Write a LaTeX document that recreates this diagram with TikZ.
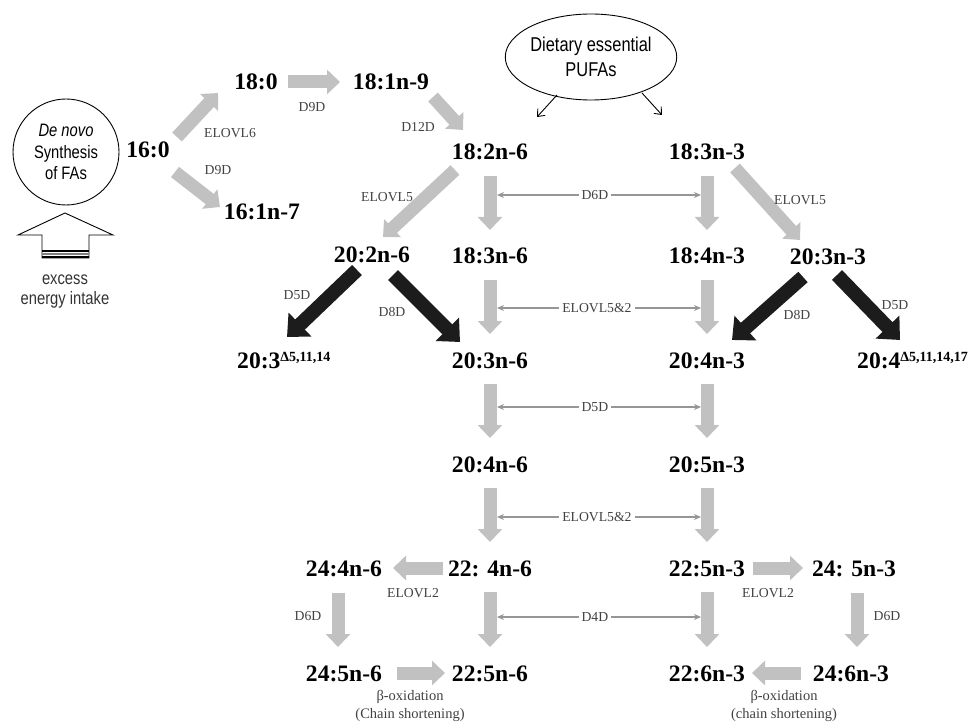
\documentclass[tikz,border=0pt]{standalone}
\usepackage{fontspec}
\setmainfont{Liberation Serif}
\newfontfamily\narrowsans[FakeStretch=0.82]{Liberation Sans}
\usetikzlibrary{arrows.meta,calc,shapes.geometric}

\definecolor{fatgray}{RGB}{193,193,193}
\definecolor{thingray}{RGB}{150,150,150}
\definecolor{enzgray}{RGB}{65,65,65}
\definecolor{darkarrow}{RGB}{28,28,28}

\begin{document}
\begin{tikzpicture}[x=1pt,y=-1pt,
  fa/.style={inner sep=0pt, text height=16pt, text depth=0pt,
             font=\fontsize{23.6}{28}\selectfont\bfseries},
  enz/.style={inner sep=1pt, text=enzgray, font=\fontsize{13.7}{16}\selectfont},
  note/.style={inner sep=0pt, text=enzgray, align=center,
               font=\fontsize{14.5}{18}\selectfont},
  fat/.style={draw=fatgray, line width=13pt, -{Triangle[length=13pt,width=24pt]}},
  dark/.style={draw=darkarrow, line width=14pt, -{Triangle[length=18pt,width=32pt]}},
  thinlink/.style={draw=thingray, line width=1.2pt,
             {Stealth[length=7pt,width=6pt]}-{Stealth[length=7pt,width=6pt]}},
  feed/.style={draw=black, line width=0.9pt, -{Straight Barb[length=6pt,width=10pt]}},
  sans/.style={inner sep=0pt, align=center}
]
\useasboundingbox (0,0) rectangle (975,722);

% ---- sources ----
\node[draw, line width=0.9pt, circle, minimum size=106pt, inner sep=0pt,
      font=\narrowsans\fontsize{18}{21.5}\selectfont, align=center] (denovo) at (66,152)
      {\textit{De novo}\\Synthesis\\of FAs};
\node[draw, line width=0.9pt, ellipse, minimum width=137pt, minimum height=86pt,
      inner sep=0pt, font=\narrowsans\fontsize{20}{25}\selectfont, align=center] (diet) at (591,57)
      {Dietary essential\\PUFAs};

% hollow "energy" arrow feeding the synthesis circle
\draw[line width=0.9pt, fill=white] (65,213) -- (113,235) -- (89,235) -- (89,258)
      -- (42,258) -- (42,235) -- (18,235) -- cycle;
\draw[line width=2pt] (42,251) -- (89,251);
\draw[line width=2.2pt, gray] (42,254) -- (89,254);
\draw[line width=2pt] (42,257) -- (89,257);
\node[sans, font=\narrowsans\fontsize{18}{20}\selectfont, text=black!80] (excess) at (65,292)
      {excess\\energy intake};

% ---- fatty acids ----
\node[fa] (c160)   at (148,150) {16:0};
\node[fa] (c180)   at (256,82)  {18:0};
\node[fa] (c181)   at (391,82)  {18:1n-9};
\node[fa] (c161)   at (262,212) {16:1n-7};

\node[fa] (c182)   at (490,152) {18:2n-6};
\node[fa] (c183n6) at (490,256) {18:3n-6};
\node[fa] (c203n6) at (490,360) {20:3n-6};
\node[fa] (c204n6) at (490,464) {20:4n-6};
\node[fa] (c224n6) at (490,568) {22: 4n-6};
\node[fa] (c225n6) at (490,673) {22:5n-6};

\node[fa] (c183n3) at (707,152) {18:3n-3};
\node[fa] (c184n3) at (707,256) {18:4n-3};
\node[fa] (c204n3) at (707,360) {20:4n-3};
\node[fa] (c205n3) at (707,464) {20:5n-3};
\node[fa] (c225n3) at (707,568) {22:5n-3};
\node[fa] (c226n3) at (707,673) {22:6n-3};

\node[fa] (c202n6) at (372,255) {20:2n-6};
\node[fa] (c203n3) at (828,257) {20:3n-3};
\node[fa, anchor=west] (c203d) at (237,360)
      {20:3\raisebox{7pt}{\fontsize{14}{14}\selectfont Δ5,11,14}};
\node[fa, anchor=west] (c204d) at (857,360)
      {20:4\raisebox{7pt}{\fontsize{14}{14}\selectfont Δ5,11,14,17}};

\node[fa] (c244n6) at (344,568) {24:4n-6};
\node[fa] (c245n6) at (344,673) {24:5n-6};
\node[fa] (c245n3) at (854,568) {24: 5n-3};
\node[fa] (c246n3) at (851,673) {24:6n-3};

% ---- dietary input ----
\draw[feed] ($(diet)+(-34,38)$) -- ($(diet)+(-54,60)$);
\draw[feed] ($(diet)+(51,36)$) -- ($(diet)+(71,58)$);

% ---- de novo branch ----
\draw[fat] ($(c160)+(29,-13)$) -- ($(c180)+(-38,11)$);
\draw[fat] ($(c160)+(27,22)$) -- ($(c161)+(-42,-5)$);
\draw[fat] ($(c180)+(32,0)$) -- ($(c181)+(-51,0)$);
\draw[fat] ($(c181)+(42,15)$) -- ($(c182)+(-27,-22)$);
\node[enz] (eElovl6) at (230,133) {ELOVL6};
\node[enz] (eD9Da)   at (218,170) {D9D};
\node[enz] (eD9Db)   at (312,107) {D9D};
\node[enz] (eD12D)   at (418,127) {D12D};

% ---- elongation to 20-carbon intermediates ----
\draw[fat] ($(c182)+(-35,18)$) -- ($(c202n6)+(11,-18)$);
\draw[fat] ($(c183n3)+(28,16)$) -- ($(c203n3)+(-28,-17)$);
\node[enz] (eElovl5a) at (387,197) {ELOVL5};
\node[enz] (eElovl5b) at (800,200) {ELOVL5};

% ---- alternative desaturation ----
\draw[dark] ($(c202n6)+(-15,15)$) -- ($(c203d.west)+(50,-23)$);
\draw[dark] ($(c202n6)+(21,20)$) -- ($(c203n6)+(-30,-18)$);
\draw[dark] ($(c203n3)+(-25,20)$) -- ($(c204n3)+(25,-20)$);
\draw[dark] ($(c203n3)+(9,18)$) -- ($(c204d.west)+(43,-20)$);
\node[enz] (eD5Da) at (297,295) {D5D};
\node[enz] (eD8Da) at (392,312) {D8D};
\node[enz] (eD8Db) at (797,315) {D8D};
\node[enz] (eD5Db) at (895,305) {D5D};

% ---- main n-6 and n-3 cascades ----
\foreach \a/\b in {c182/c183n6, c183n6/c203n6, c203n6/c204n6, c204n6/c224n6, c224n6/c225n6,
                   c183n3/c184n3, c184n3/c204n3, c204n3/c205n3, c205n3/c225n3, c225n3/c226n3}
  \draw[fat] ($(\a)+(0,24)$) -- ($(\b)+(0,-26)$);

% shared enzymes of both cascades
\draw[thinlink] ($(c182)+(7,43)$)   -- node[enz, fill=white, inner sep=3pt, pos=0.48] (sD6D) {D6D} ($(c183n3)+(-6,43)$);
\draw[thinlink] ($(c183n6)+(7,52)$) -- node[enz, fill=white, inner sep=3pt, pos=0.49] (sEl52a) {ELOVL5\&2} ($(c184n3)+(-6,52)$);
\draw[thinlink] ($(c203n6)+(7,47)$) -- node[enz, fill=white, inner sep=3pt, pos=0.48] (sD5D) {D5D} ($(c204n3)+(-6,47)$);
\draw[thinlink] ($(c204n6)+(7,53)$) -- node[enz, fill=white, inner sep=3pt, pos=0.49] (sEl52b) {ELOVL5\&2} ($(c205n3)+(-6,53)$);
\draw[thinlink] ($(c224n6)+(7,49)$) -- node[enz, fill=white, inner sep=3pt, pos=0.48] (sD4D) {D4D} ($(c225n3)+(-6,49)$);

% ---- Sprecher pathway, n-6 ----
\draw[fat] ($(c224n6)+(-47,0)$) -- ($(c244n6)+(49,0)$);
\draw[fat] ($(c244n6)+(-6,25)$) -- ($(c245n6)+(-6,-26)$);
\draw[fat] ($(c245n6)+(53,0)$) -- ($(c225n6)+(-45,0)$);
\node[enz] (eElovl2a) at (413,593) {ELOVL2};
\node[enz] (eD6Da)    at (308,616) {D6D};
\node[note] (betaA) at (410,706) {β-oxidation\\(Chain shortening)};

% ---- Sprecher pathway, n-3 ----
\draw[fat] ($(c225n3)+(46,0)$) -- ($(c245n3)+(-51,0)$);
\draw[fat] ($(c245n3)+(3,25)$) -- ($(c246n3)+(6,-26)$);
\draw[fat] ($(c246n3)+(-50,0)$) -- ($(c226n3)+(45,0)$);
\node[enz] (eElovl2b) at (768,593) {ELOVL2};
\node[enz] (eD6Db)    at (887,616) {D6D};
\node[note] (betaB) at (784,706) {β-oxidation\\(chain shortening)};
\end{tikzpicture}
\end{document}
